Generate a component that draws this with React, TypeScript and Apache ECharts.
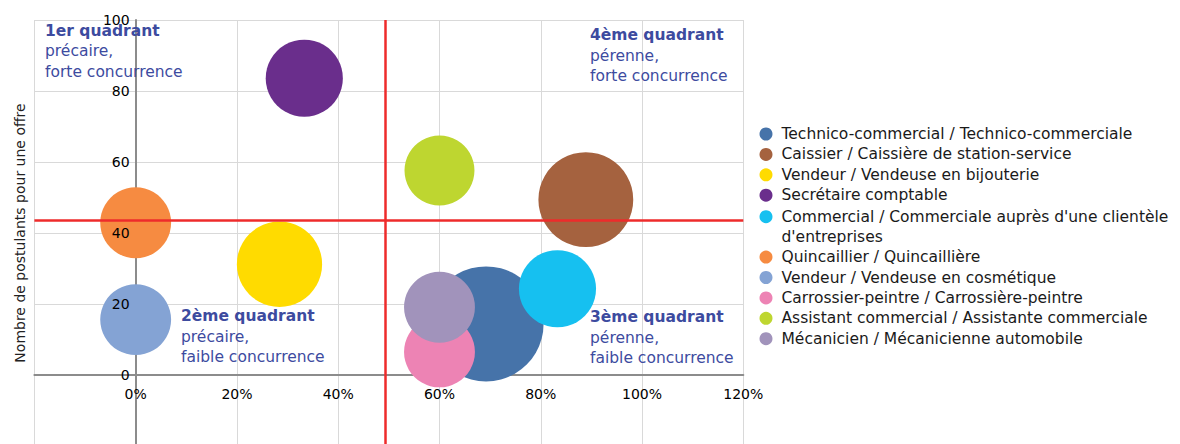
import React, { useEffect, useRef } from "react";
import * as echarts from "echarts";

// ---- Data ----
const jobs: string[] = [
  "Technico-commercial / Technico-commerciale",
  "Caissier / Caissière de station-service",
  "Vendeur / Vendeuse en bijouterie",
  "Secrétaire comptable",
  "Commercial / Commerciale auprès d'une clientèle d'entreprises",
  "Quincaillier / Quincaillière",
  "Vendeur / Vendeuse en cosmétique",
  "Carrossier-peintre / Carrossière-peintre",
  "Assistant commercial / Assistante commerciale",
  "Mécanicien / Mécanicienne automobile",
];
// x: part d'offres durables (%)
const perennite: number[] = [69.2, 88.9, 28.4, 33.3, 83.3, 0, 0, 60, 60, 60];
// y: nombre de postulants pour une offre
const postulants: number[] = [14.4, 49.4, 31.2, 83.6, 24.3, 42.9, 15.6, 6.5, 57.6, 19.1];
// bubble size
const tailles: number[] = [100, 68, 55, 45, 45, 38, 38, 38, 37, 38];
const couleurs: string[] = [
  "#4673A9",
  "#A5623F",
  "#FFDB00",
  "#6A2E8C",
  "#16C0F0",
  "#F68B41",
  "#84A3D4",
  "#ED83B4",
  "#BED630",
  "#A193BB",
];
const seuilX = 49.2;
const seuilY = 43.5;
const xMin = -20, xMax = 120, xStep = 20;
const yMin = -20, yMax = 100, yStep = 20;

const quadrantTitles: string[] = ["1er quadrant", "2ème quadrant", "3ème quadrant", "4ème quadrant"];
const quadrantLines: string[][] = [
  ["précaire,", "forte concurrence"],
  ["précaire,", "faible concurrence"],
  ["pérenne,", "faible concurrence"],
  ["pérenne,", "forte concurrence"],
];
const quadrantPos: number[][] = [
  [45, 22.5],
  [181, 308],
  [590, 309],
  [590, 27.3],
];

const FONT = "'DejaVu Sans', Verdana, sans-serif";
const QCOLOR = "#3D4B9F";
const maxTaille = Math.max(...tailles);
const MAX_DIAM = 115;

// grid geometry
const GRID_LEFT = 34.4;
const GRID_RIGHT_PX = 743.3;
const GRID_TOP = 20;
const GRID_BOTTOM_PX = 446;

export default function App() {
  const ref = useRef<HTMLDivElement>(null);
  useEffect(() => {
    if (!ref.current) return;
    const chart = echarts.init(ref.current, null, { renderer: "svg" });

    // offsets to bring the label-only axes onto the zero lines
    const plotW = GRID_RIGHT_PX - GRID_LEFT;
    const plotH = GRID_BOTTOM_PX - GRID_TOP;
    const yLabelOffset = -((0 - xMin) / (xMax - xMin)) * plotW;
    const xLabelOffset = -((0 - yMin) / (yMax - yMin)) * plotH;

    const series: any[] = jobs.map((name, i) => ({
      name,
      type: "scatter",
      xAxisIndex: 0,
      yAxisIndex: 0,
      data: [[perennite[i], postulants[i], tailles[i]]],
      symbol: "circle",
      symbolSize: (v: number[]) => MAX_DIAM * Math.sqrt(v[2] / maxTaille),
      itemStyle: { color: couleurs[i], opacity: 1 },
      emphasis: { disabled: true },
      ...(i === 0
        ? {
            markLine: {
              silent: true,
              symbol: "none",
              z: 6,
              label: { show: false },
              lineStyle: { color: "#EE2B2B", width: 2.5, type: "solid" },
              data: [{ xAxis: seuilX }, { yAxis: seuilY }],
            },
          }
        : {}),
    }));

    const multiName = jobs[4];
    const legendText = { fontFamily: FONT, fontSize: 15.5, lineHeight: 20, color: "#1a1a1a" };
    const legendCommon = {
      orient: "vertical",
      left: 759.5,
      padding: 0,
      itemGap: 0.4,
      itemWidth: 21,
      itemHeight: 13,
      icon: "circle",
      selectedMode: false,
      textStyle: {
        ...legendText,
        rich: {
          p: { ...legendText, lineHeight: 20 },
          t: { ...legendText },
        },
      },
    };

    const graphics: any[] = quadrantTitles.map((t, i) => ({
      type: "text",
      left: quadrantPos[i][0],
      top: quadrantPos[i][1],
      z: 20,
      style: {
        text: `{b|${t}}\n` + quadrantLines[i].map((l) => `{n|${l}}`).join("\n"),
        rich: {
          b: { fontFamily: FONT, fontSize: 15.5, fontWeight: "bold", lineHeight: 20.5, fill: QCOLOR },
          n: { fontFamily: FONT, fontSize: 15.5, lineHeight: 20.5, fill: QCOLOR },
        },
      },
    }));

    const labelStyle = { fontSize: 14, color: "#000", fontFamily: FONT };

    chart.setOption({
      animation: false,
      textStyle: { fontFamily: FONT },
      grid: {
        left: GRID_LEFT,
        top: GRID_TOP,
        right: 1180 - GRID_RIGHT_PX,
        bottom: 444 - GRID_BOTTOM_PX,
        containLabel: false,
        outerBoundsMode: "none",
      },
      xAxis: [
        {
          type: "value",
          position: "bottom",
          min: xMin,
          max: xMax,
          interval: xStep,
          axisLine: { onZero: true, lineStyle: { color: "#8C8C8C", width: 2 } },
          axisTick: { show: false },
          splitLine: { show: true, lineStyle: { color: "#D9D9D9", width: 1 } },
          axisLabel: { show: false },
        },
        {
          type: "value",
          position: "bottom",
          offset: xLabelOffset,
          min: xMin,
          max: xMax,
          interval: xStep,
          z: 10,
          axisLine: { show: false, onZero: false },
          axisTick: { show: false },
          splitLine: { show: false },
          axisLabel: {
            ...labelStyle,
            margin: 12,
            formatter: (v: number) => (v < 0 ? "" : `${v}%`),
          },
        },
      ],
      yAxis: [
        {
          type: "value",
          position: "left",
          min: yMin,
          max: yMax,
          interval: yStep,
          axisLine: { onZero: true, onZeroAxisIndex: 0, lineStyle: { color: "#8C8C8C", width: 2 } },
          axisTick: { show: false },
          splitLine: { show: true, lineStyle: { color: "#D9D9D9", width: 1 } },
          axisLabel: { show: false },
        },
        {
          type: "value",
          position: "left",
          offset: yLabelOffset,
          min: yMin,
          max: yMax,
          interval: yStep,
          z: 10,
          axisLine: { show: false, onZero: false },
          axisTick: { show: false },
          splitLine: { show: false },
          axisLabel: {
            ...labelStyle,
            margin: 6,
            formatter: (v: number) => (v < 0 ? "" : `${v}`),
          },
          name: "Nombre de postulants pour une offre",
          nameLocation: "middle",
          nameGap: 109,
          nameTextStyle: { fontFamily: FONT, fontSize: 14, color: "#222" },
        },
      ],
      legend: [
        { ...legendCommon, top: 124, data: jobs.slice(0, 4) },
        {
          ...legendCommon,
          top: 186.7,
          formatter: (n: string) =>
            n === multiName
              ? `{p| }\n{t|${n.replace(" d'entreprises", "")}}\n{t|d'entreprises}`
              : n,
          data: jobs.slice(4),
        },
      ],
      graphic: graphics,
      series,
    });

    return () => chart.dispose();
  }, []);

  return (
    <div
      ref={ref}
      style={{ position: "absolute", left: 0, top: 0, width: 1180, height: 444 }}
    />
  );
}
